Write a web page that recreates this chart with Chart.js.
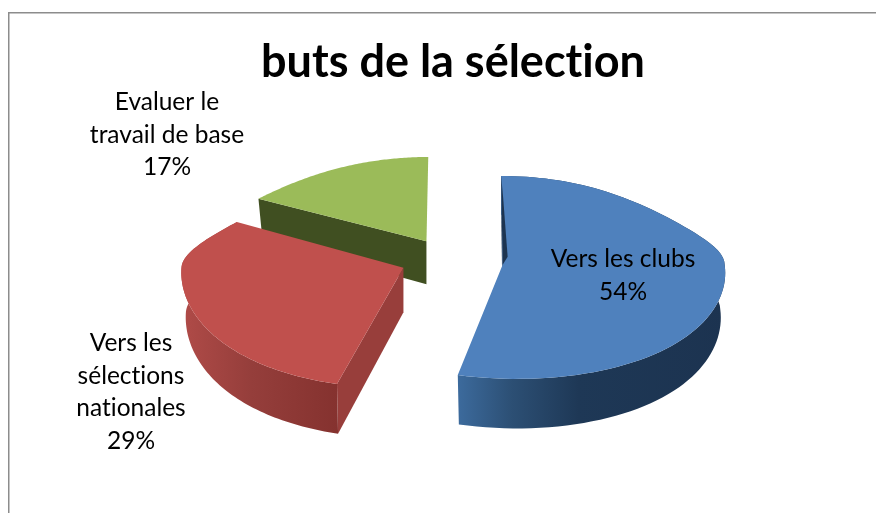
<!DOCTYPE html>
<html><head><meta charset="utf-8">
<style>html,body{margin:0;padding:0;background:#fff}#c{display:block}</style>
<script src="https://cdn.jsdelivr.net/npm/chart.js@4"></script>
</head><body>
<canvas id="c" width="883" height="513"></canvas>
<script>
const categories = ['Vers les clubs', 'Vers les sélections nationales', 'Evaluer le travail de base'];
const values = [54, 29, 17];
const explode = [208, 208, 190];
const labelLines = [['Vers les clubs'], ['Vers les', 'sélections', 'nationales'], ['Evaluer le', 'travail de base']];
const topColors = ['#4f81bd', '#c0504d', '#9bbb59'];
const rimStops = [
  [[0, '#3c6a9c'], [0.2, '#2c4f74'], [0.45, '#1e3856'], [1, '#1c3350']],
  [[0, '#b04b48'], [0.45, '#953e3b'], [1, '#85322f']],
  [[0, '#4a5c26'], [1, '#4a5c26']]
];
const wallColors = ['#1d3450', '#983e3b', '#404f21'];
const labelAnchors = [[623, 259], [131, 343], [167, 102]];
const titleText = 'buts de la sélection';

const squash = 0.45, persp = 0.0006, depth = 44, tilt = 0.04, shearFront = 0.00125, shearBack = 0.0006, pieShift = -2;
const spread = Y => Y < 0 ? 1 - 0.312 * Y * Y / (Y * Y + 15000) : 1 + 2.2e-6 * Y * Y;
function project(g, dX, dY, down) {
  const Y = g.ay + dY;
  const s = spread(dY);
  const sy = squash * Y / (1 - persp * Y);
  const d = depth * (1 + 0.00055 * Y);
  const shear = dY > 0 ? shearFront * g.ax * dY * (g.ax < 0 ? 0.6 : 1) : shearBack * Math.min(g.ax, 0) * dY;
  const yTilt = tilt * g.ax * (1 - Math.max(dY, 0) / g.r);
  return [g.cx + pieShift + g.ax + dX * s + shear - (down ? dX * 0.02 : 0), g.cy + yTilt + sy + (down ? d : 0)];
}
function geom(arc) {
  const p = arc.getProps(['x', 'y', 'startAngle', 'endAngle', 'outerRadius']);
  const mid = (p.startAngle + p.endAngle) / 2;
  const off = (arc.options.offset || 0) / 4;
  return {cx: p.x, cy: p.y, ax: Math.cos(mid) * off, ay: Math.sin(mid) * off, a0: p.startAngle, a1: p.endAngle, r: p.outerRadius};
}
function rimPoints(g, down) {
  const pts = [], n = 90;
  for (let i = 0; i <= n; i++) {
    const a = g.a0 + (g.a1 - g.a0) * i / n;
    pts.push(project(g, Math.cos(a) * g.r, Math.sin(a) * g.r, down));
  }
  return pts;
}
function poly(ctx, pts, fill) {
  ctx.beginPath();
  pts.forEach((p, i) => i ? ctx.lineTo(p[0], p[1]) : ctx.moveTo(p[0], p[1]));
  ctx.closePath();
  ctx.fillStyle = fill;
  ctx.fill();
}
const pie3d = {
  id: 'pie3d',
  beforeDatasetsDraw(chart) {
    const ctx = chart.ctx, arcs = chart.getDatasetMeta(0).data;
    ctx.save();
    for (let i = arcs.length - 1; i >= 0; i--) {
      const g = geom(arcs[i]);
      const top = rimPoints(g, false), low = rimPoints(g, true);
      const at = project(g, 0, 0, false), ad = project(g, 0, 0, true);
      // radial wall on the slice's leading edge
      poly(ctx, [at, top[0], low[0], ad], wallColors[i]);
      // outer rim
      const xs = top.concat(low).map(p => p[0]);
      const minX = Math.min(...xs), maxX = Math.max(...xs);
      const grad = ctx.createLinearGradient(i === 0 ? low[low.length - 1][0] : minX, 0, i === 0 ? maxX : top[0][0], 0);
      rimStops[i].forEach(([o, c]) => grad.addColorStop(o, c));
      poly(ctx, top.concat(low.slice().reverse()), grad);
      // top face
      poly(ctx, [at].concat(top), arcs[i].options.backgroundColor);
      if (i === 0) {
        poly(ctx, [top[0], at, [at[0] + 5, at[1] - 8], [top[0][0] + 2, top[0][1] + 22]], wallColors[0]);
      }
    }
    ctx.fillStyle = '#000';
    ctx.font = '24.5px Lato, Carlito, sans-serif';
    ctx.textAlign = 'center';
    ctx.textBaseline = 'alphabetic';
    labelLines.forEach((lines, i) => {
      const [x, y] = labelAnchors[i];
      const all = lines.concat([values[i] + '%']);
      all.forEach((t, j) => ctx.fillText(t, x, y + 8 + j * 32.5));
    });
    ctx.restore();
    return false;
  }
};
const frame = {
  id: 'frame',
  beforeDraw(chart) {
    const ctx = chart.ctx;
    ctx.textRendering = 'optimizeSpeed';
    ctx.save();
    ctx.fillStyle = '#8c8c8c';
    ctx.fillRect(8, 12, 868, 1.5);
    ctx.fillRect(8, 12, 1.5, 501);
    ctx.restore();
  }
};
new Chart(document.getElementById('c'), {
  type: 'pie',
  data: {labels: categories, datasets: [{data: values, backgroundColor: topColors, borderWidth: 0, offset: explode}]},
  options: {
    responsive: false, animation: false, rotation: -0.5, radius: 222,
    layout: {padding: {left: 23, right: 0, top: 0, bottom: 83}},
    events: [],
    plugins: {
      legend: {display: false}, tooltip: {enabled: false},
      title: {display: true, text: titleText, color: '#000', font: {family: 'Lato, Carlito, sans-serif', size: 45, weight: 'bold'}, padding: {top: 35, bottom: 1}}
    }
  },
  plugins: [frame, pie3d]
});
</script>
</body></html>
